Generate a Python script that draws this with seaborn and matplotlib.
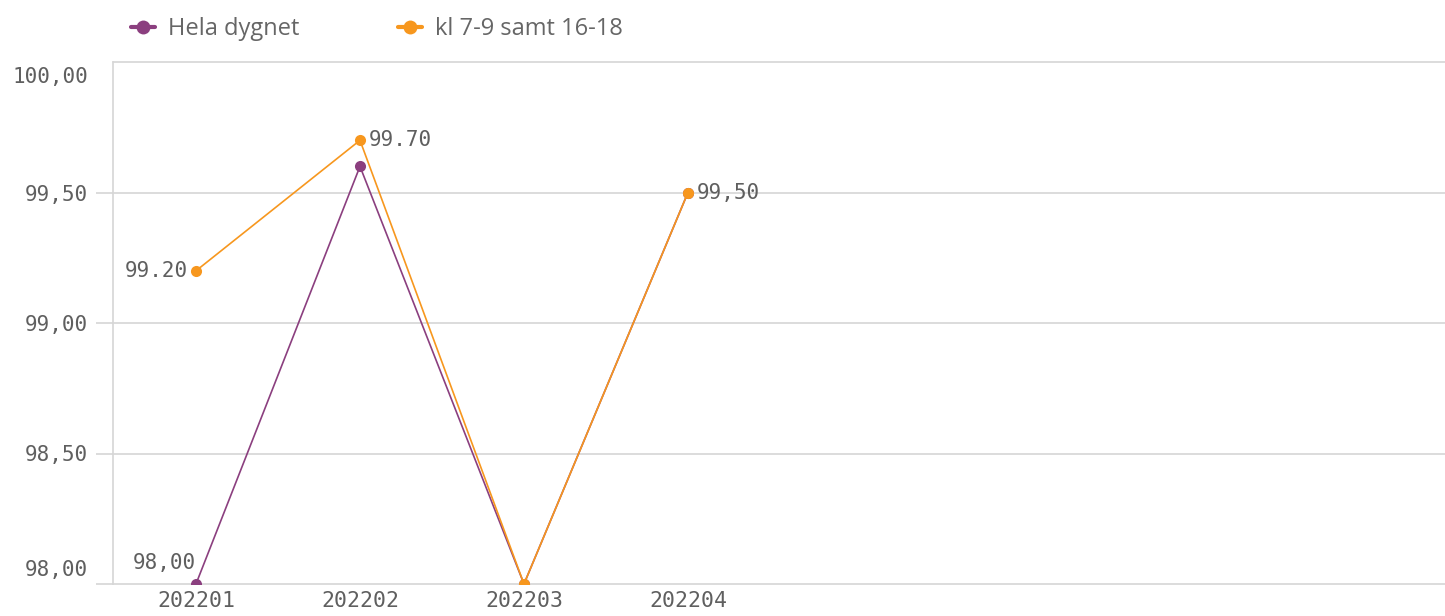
import matplotlib
matplotlib.use("Agg")
import matplotlib.pyplot as plt
from matplotlib.lines import Line2D
from matplotlib.transforms import ScaledTranslation
import seaborn as sns
import pandas as pd

# data
periods = ["202201", "202202", "202203", "202204"]
hela_dygnet = [98.00, 99.60, 98.00, 99.50]
rusning = [99.20, 99.70, 98.00, 99.50]
series_names = ["Hela dygnet", "kl 7-9 samt 16-18"]
hela_labels = ["98,00", None, None, None]
rusning_labels = ["99.20", "99.70", None, "99,50"]
y_ticks = [98.0, 98.5, 99.0, 99.5, 100.0]
y_ticklabels = ["98,00", "98,50", "99,00", "99,50", "100,00"]

colors = {"Hela dygnet": "#8b3f7f", "kl 7-9 samt 16-18": "#f7971e"}
text_gray = "#5f5f5f"
grid_gray = "#d6d6d6"
mono = "DejaVu Sans Mono"

df = pd.DataFrame({
    "period": periods * 2,
    "value": hela_dygnet + rusning,
    "series": [series_names[0]] * len(periods) + [series_names[1]] * len(periods),
})

sns.set_theme(style="white")
plt.rcParams["font.family"] = ["Open Sans", "DejaVu Sans"]

fig = plt.figure(figsize=(14.45, 6.16), dpi=100)
ax = fig.add_axes([113 / 1445, 32 / 616, 1 - 113 / 1445, 522 / 616])

sns.lineplot(data=df, x="period", y="value", hue="series", hue_order=series_names,
             palette=colors, marker="o", markersize=8, markeredgewidth=0,
             linewidth=1.2, legend=False, ax=ax, zorder=3)

ax.set_xlim(-0.506, 7.616)
ax.set_ylim(98, 100)
ax.set_xlabel("")
ax.set_ylabel("")

# grid lines
for v in y_ticks:
    ax.axhline(v, color=grid_gray, lw=1.2, zorder=1, clip_on=False)

for s in ["top", "right", "bottom"]:
    ax.spines[s].set_visible(False)
ax.spines["left"].set_color(grid_gray)
ax.spines["left"].set_linewidth(1.2)

ax.set_yticks(y_ticks)
ax.set_yticklabels(y_ticklabels, family=mono, fontsize=15, color=text_gray)
ax.tick_params(axis="y", length=12, width=1.2, color=grid_gray, pad=6, left=True)
tl = ax.get_yticklabels()
tl[0].set_transform(tl[0].get_transform() + ScaledTranslation(0, 16 / 100, fig.dpi_scale_trans))
tl[-1].set_transform(tl[-1].get_transform() + ScaledTranslation(0, -13 / 100, fig.dpi_scale_trans))
ax.yaxis.get_major_ticks()[-1].tick1line.set_visible(False)
ax.tick_params(axis="x", length=0, pad=5)
for lab in ax.get_xticklabels():
    lab.set_family(mono)
    lab.set_fontsize(15.5)
    lab.set_color(text_gray)

# data labels
for i, lab in enumerate(hela_labels):
    if lab:
        ax.annotate(lab, (i, hela_dygnet[i]), xytext=(0, 8), textcoords="offset points",
                    ha="right", va="bottom", family=mono, fontsize=15, color=text_gray,
                    annotation_clip=False)
for i, lab in enumerate(rusning_labels):
    if lab:
        if i == 0:
            off, ha = (-6, 0), "right"
        else:
            off, ha = (6, 0), "left"
        ax.annotate(lab, (i, rusning[i]), xytext=off, textcoords="offset points",
                    ha=ha, va="center", family=mono, fontsize=15, color=text_gray,
                    annotation_clip=False)

# legend
handles = [Line2D([0], [0], color=colors[n], lw=3, marker="o", markersize=10,
                  markeredgewidth=0) for n in series_names]
fig.legend(handles, series_names, loc="center left", bbox_to_anchor=(110 / 1445, 1 - 29 / 616),
           ncol=2, frameon=False, fontsize=17, labelcolor="#666666",
           handlelength=1.0, handletextpad=0.55, columnspacing=4.2)

fig.savefig("out.png", dpi=100)
